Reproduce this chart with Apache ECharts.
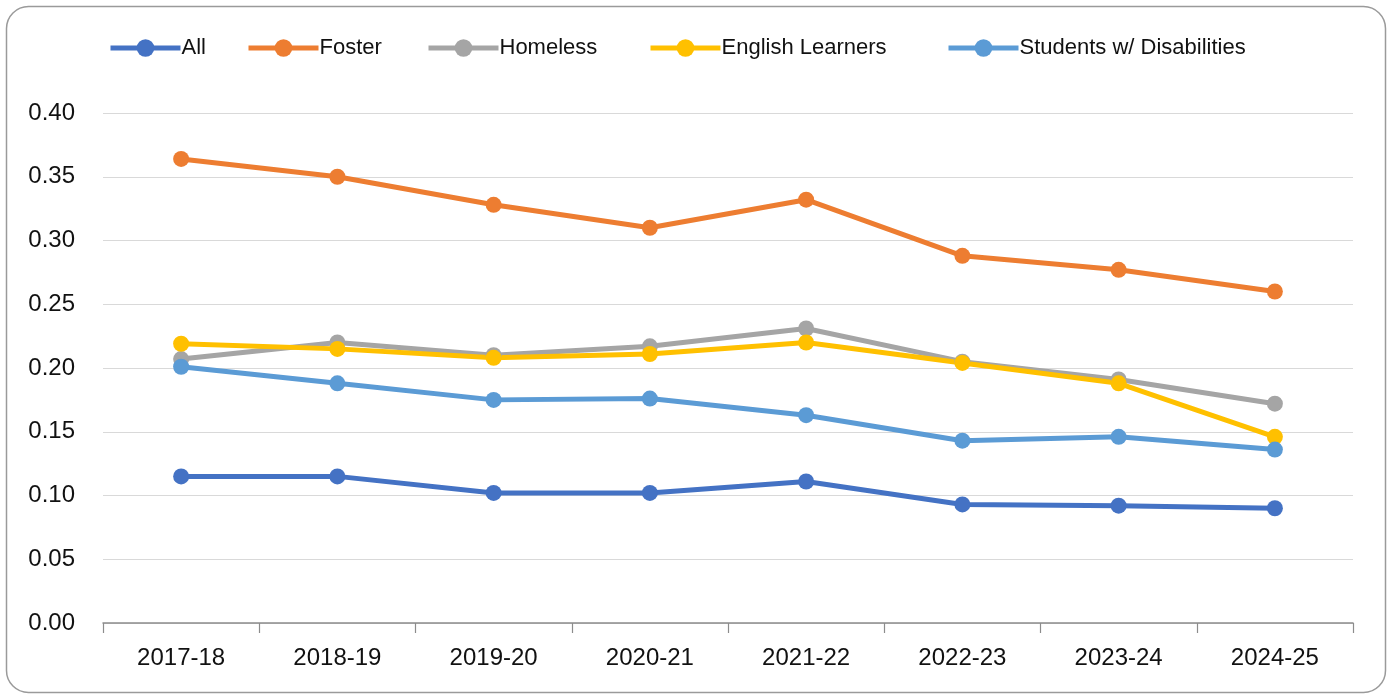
<!DOCTYPE html>
<html>
<head>
<meta charset="utf-8">
<script src="https://cdn.jsdelivr.net/npm/echarts@6/dist/echarts.min.js"></script>
<style>
  html, body { margin: 0; padding: 0; background: #fff; }
  #chart { width: 1388px; height: 696px; }
</style>
</head>
<body>
<div id="chart"></div>
<script>
// School years on the category axis
const years = ['2017-18', '2018-19', '2019-20', '2020-21', '2021-22', '2022-23', '2023-24', '2024-25'];

// Rates by student group
const allStudents      = [0.115, 0.115, 0.102, 0.102, 0.111, 0.093, 0.092, 0.090];
const foster           = [0.364, 0.350, 0.328, 0.310, 0.332, 0.288, 0.277, 0.260];
const homeless         = [0.207, 0.220, 0.210, 0.217, 0.231, 0.205, 0.191, 0.172];
const englishLearners  = [0.219, 0.215, 0.208, 0.211, 0.220, 0.204, 0.188, 0.146];
const disabilities     = [0.201, 0.188, 0.175, 0.176, 0.163, 0.143, 0.146, 0.136];

// Y-axis tick labels
const yTicks = ['0.00', '0.05', '0.10', '0.15', '0.20', '0.25', '0.30', '0.35', '0.40'];

const groups = [
  { name: 'All', data: allStudents, color: '#4472C4' },
  { name: 'Foster', data: foster, color: '#ED7D31' },
  { name: 'Homeless', data: homeless, color: '#A5A5A5' },
  { name: 'English Learners', data: englishLearners, color: '#FFC000' },
  { name: 'Students w/ Disabilities', data: disabilities, color: '#5B9BD5' }
];

// Left edge of each legend entry
const legendLeft = [108, 246, 426, 648, 946];

const FONT = '"Liberation Sans", Arial, sans-serif';

const chart = echarts.init(document.getElementById('chart'), null, { renderer: 'canvas' });

chart.setOption({
  animation: false,
  backgroundColor: '#ffffff',
  textStyle: { fontFamily: FONT },
  graphic: [{
    type: 'rect',
    left: 4, top: 4,
    shape: { width: 1379, height: 686, r: 22 },
    style: { fill: 'none', stroke: '#9a9a9a', lineWidth: 1.5 },
    silent: true,
    z: -1
  }],
  legend: groups.map((g, i) => ({
    top: 37,
    left: legendLeft[i],
    itemWidth: 70,
    itemHeight: 22,
    itemGap: 0,
    padding: 0,
    lineStyle: { width: 5 },
    textStyle: { fontSize: 22, color: '#111', fontFamily: FONT, padding: [0, 0, 0, -4] },
    data: [g.name]
  })),
  grid: {
    left: 103,
    right: 35,
    top: 113,
    bottom: 73
  },
  xAxis: {
    type: 'category',
    data: years,
    boundaryGap: true,
    axisLine: { show: true, lineStyle: { color: '#8c8c8c', width: 1.5 } },
    axisTick: { show: true, alignWithLabel: false, length: 10, lineStyle: { color: '#8c8c8c', width: 1.2 } },
    axisLabel: { fontSize: 24, color: '#111', margin: 23, fontFamily: FONT }
  },
  yAxis: {
    type: 'value',
    min: 0,
    max: 0.40,
    interval: 0.05,
    axisLine: { show: false },
    axisTick: { show: false },
    splitLine: { lineStyle: { color: '#d9d9d9', width: 1.2 } },
    axisLabel: {
      fontSize: 24, color: '#111', margin: 28, fontFamily: FONT,
      formatter: (v) => yTicks[Math.round(v / 0.05)]
    }
  },
  series: groups.map(g => ({
    name: g.name,
    type: 'line',
    data: g.data,
    color: g.color,
    symbol: 'circle',
    symbolSize: 16,
    lineStyle: { width: 5, color: g.color },
    itemStyle: { color: g.color }
  }))
});
</script>
</body>
</html>
